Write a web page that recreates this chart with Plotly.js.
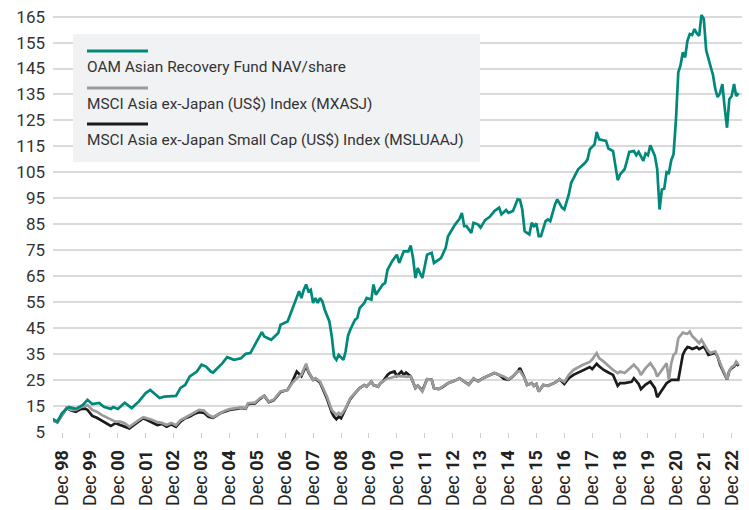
<!DOCTYPE html>
<html>
<head>
<meta charset="utf-8">
<script src="https://cdn.plot.ly/plotly-3.0.1.min.js"></script>
<style>html,body{margin:0;padding:0;background:#fff;}#chart{width:749px;height:510px;}</style>
</head>
<body>
<div id="chart"></div>
<script>
// ---------- DATA ----------
const fundDates = ['1998-09','1998-11','1999-01','1999-04','1999-07','1999-10','1999-12','2000-02','2000-05','2000-07','2000-10','2000-11','2001-01','2001-04','2001-07','2001-10','2002-01','2002-03','2002-07','2002-09','2003-02','2003-04','2003-06','2003-08','2003-11','2004-01','2004-03','2004-05','2004-06','2004-08','2004-10','2004-12','2005-03','2005-06','2005-08','2005-10','2005-12','2006-03','2006-04','2006-07','2006-10','2006-11','2007-02','2007-04','2007-06','2007-07','2007-08','2007-09','2007-10','2007-11','2007-12','2008-01','2008-02','2008-03','2008-04','2008-05','2008-06','2008-08','2008-09','2008-10','2008-11','2008-12','2009-02','2009-03','2009-04','2009-05','2009-07','2009-08','2009-09','2009-11','2009-12','2010-02','2010-03','2010-04','2010-07','2010-08','2010-09','2010-11','2011-01','2011-02','2011-04','2011-06','2011-07','2011-08','2011-09','2011-10','2011-12','2012-02','2012-04','2012-05','2012-08','2012-10','2012-11','2013-02','2013-04','2013-05','2013-06','2013-07','2013-09','2013-10','2013-12','2014-01','2014-03','2014-05','2014-07','2014-09','2014-10','2014-12','2015-01','2015-03','2015-05','2015-06','2015-07','2015-08','2015-10','2015-11','2015-12','2016-01','2016-02','2016-03','2016-05','2016-06','2016-07','2016-09','2016-10','2016-12','2017-01','2017-03','2017-04','2017-05','2017-07','2017-10','2017-11','2017-12','2018-02','2018-03','2018-04','2018-07','2018-08','2018-10','2018-11','2018-12','2019-01','2019-03','2019-04','2019-05','2019-07','2019-08','2019-09','2019-11','2019-12','2020-01','2020-02','2020-04','2020-05','2020-06','2020-07','2020-08','2020-09','2020-10','2020-11','2020-12','2021-01','2021-02','2021-03','2021-04','2021-05','2021-06','2021-07','2021-08','2021-09','2021-10','2021-11','2021-12','2022-01','2022-02','2022-03','2022-04','2022-05','2022-06','2022-07','2022-08','2022-09','2022-10','2022-11','2022-12','2023-01','2023-02','2023-03','2023-04'];
const fundNav = [10.0,9.0,12.3,14.6,13.9,15.4,17.4,15.8,16.2,14.7,13.9,14.6,13.9,16.3,14.2,16.7,20.0,21.2,18.1,18.6,18.9,22.0,23.1,26.4,28.3,30.9,30.2,28.3,27.9,29.6,31.5,33.8,32.8,33.4,35.1,35.4,38.6,43.5,41.8,40.5,43.1,46.3,47.6,52.1,56.6,59.2,56.6,59.8,61.8,59.2,59.8,54.7,56.6,54.7,56.6,55.3,52.1,47.6,41.8,34.1,32.8,34.7,32.8,36.0,42.0,44.4,48.2,48.9,52.7,54.7,56.6,56.0,61.8,57.9,61.8,62.4,67.5,70.8,73.3,70.1,74.6,74.6,76.8,72.0,64.3,68.1,64.3,73.3,74.0,70.1,72.0,75.9,80.4,84.9,87.1,89.4,84.3,84.3,81.7,85.6,84.9,83.7,86.6,87.9,90.1,91.4,88.8,90.5,89.4,90.1,94.6,94.4,90.7,82.3,81.1,85.6,84.3,85.3,80.4,80.4,86.2,86.9,86.2,92.6,94.6,91.4,90.7,96.5,101.0,102.9,106.2,108.7,110.0,113.9,115.8,120.6,117.7,117.1,114.2,113.2,107.7,102.0,104.2,106.2,109.4,112.9,113.2,111.6,112.9,109.4,112.3,111.6,115.4,111.3,106.2,90.7,98.4,98.7,105.1,104.8,109.7,112.0,125.0,143.5,146.1,151.2,149.3,155.7,158.3,157.9,160.2,158.5,157.6,165.6,164.1,152.0,149.0,146.0,142.5,137.0,134.0,135.5,139.0,130.0,122.2,133.2,134.4,139.0,134.4,135.5];

const indexDates = ['1998-09','1998-11','1999-01','1999-03','1999-05','1999-07','1999-09','1999-11','1999-12','2000-02','2000-04','2000-06','2000-08','2000-10','2000-12','2001-02','2001-04','2001-06','2001-08','2001-10','2001-12','2002-02','2002-04','2002-06','2002-08','2002-10','2002-12','2003-02','2003-04','2003-06','2003-08','2003-10','2003-12','2004-02','2004-04','2004-06','2004-09','2004-11','2005-01','2005-04','2005-06','2005-08','2005-09','2005-12','2006-02','2006-04','2006-06','2006-08','2006-11','2007-02','2007-04','2007-06','2007-08','2007-10','2007-11','2008-01','2008-02','2008-04','2008-05','2008-07','2008-09','2008-10','2008-11','2008-12','2009-01','2009-03','2009-05','2009-07','2009-09','2009-11','2009-12','2010-02','2010-03','2010-05','2010-06','2010-07','2010-09','2010-10','2010-12','2011-01','2011-03','2011-04','2011-05','2011-07','2011-09','2011-10','2011-12','2012-02','2012-04','2012-05','2012-07','2012-09','2012-11','2013-02','2013-04','2013-06','2013-08','2013-10','2013-12','2014-02','2014-04','2014-07','2014-09','2014-11','2015-01','2015-03','2015-05','2015-06','2015-08','2015-09','2015-11','2015-12','2016-01','2016-02','2016-04','2016-06','2016-09','2016-11','2017-01','2017-03','2017-05','2017-07','2017-09','2017-12','2018-01','2018-03','2018-04','2018-06','2018-08','2018-10','2018-12','2019-01','2019-03','2019-06','2019-07','2019-09','2019-10','2019-12','2020-02','2020-04','2020-05','2020-07','2020-09','2020-10','2020-11','2020-12','2021-01','2021-02','2021-03','2021-04','2021-05','2021-06','2021-07','2021-08','2021-09','2021-10','2021-11','2021-12','2022-01','2022-02','2022-03','2022-04','2022-05','2022-06','2022-07','2022-08','2022-09','2022-10','2022-11','2022-12','2023-01','2023-02','2023-03','2023-04'];
const mxasj = [9.5,8.7,11.5,14.2,13.5,13.5,14.5,15.2,15.4,13.5,12.8,11.6,10.7,9.6,9.0,9.0,8.4,7.0,8.4,9.6,10.7,10.2,9.6,8.8,8.5,7.7,8.5,7.6,9.6,10.5,11.5,12.5,13.5,13.3,11.6,10.7,12.4,13.2,13.8,14.1,14.5,14.1,16.1,16.3,18.0,18.9,16.7,17.4,20.6,21.2,23.8,25.7,27.0,31.3,28.3,25.1,25.7,24.4,22.5,18.6,13.5,12.5,11.6,12.4,11.6,14.1,18.0,20.0,21.9,23.1,22.5,24.4,23.1,22.5,23.8,24.4,25.7,25.7,26.4,26.6,26.4,26.5,26.2,26.4,21.9,22.8,20.6,25.3,25.1,21.9,21.5,22.5,23.8,24.8,25.7,24.4,23.1,25.7,24.4,25.7,26.4,27.7,27.0,26.4,25.3,26.4,28.3,28.5,25.7,23.1,23.8,22.8,23.5,20.6,23.1,22.8,24.0,25.3,24.3,27.0,28.9,30.0,30.9,32.0,33.0,35.4,33.5,32.1,30.3,28.9,27.7,28.3,27.7,30.3,30.9,28.9,27.0,29.6,31.5,28.9,26.4,28.9,31.5,25.1,31.5,34.7,35.5,41.1,42.0,43.3,43.0,42.8,43.7,42.0,41.1,40.0,39.2,40.5,38.8,37.5,36.2,35.4,35.8,36.0,34.0,31.5,29.5,27.5,25.3,28.5,30.0,30.5,32.1,30.9];
const msluaaj = [9.5,8.7,11.5,14.2,13.3,12.8,13.8,14.0,13.5,11.2,10.5,9.5,8.4,7.3,8.4,7.7,7.3,6.4,7.7,9.0,10.3,9.4,8.5,7.7,8.1,7.0,8.0,7.0,9.0,10.3,11.0,12.0,12.6,12.4,10.9,10.5,12.2,13.0,13.5,13.9,14.3,14.0,15.8,16.0,17.7,18.9,16.5,17.2,20.4,21.2,24.2,28.3,26.5,30.5,28.0,25.1,25.5,24.0,22.0,17.8,12.5,10.9,9.9,10.9,10.3,13.8,17.7,19.9,21.9,23.1,22.5,24.4,23.1,22.5,23.8,24.4,27.0,27.7,28.3,26.6,28.3,27.0,27.9,26.4,21.9,22.8,21.0,25.3,25.1,21.9,21.5,22.5,23.8,24.8,25.7,24.4,23.3,25.5,24.6,25.7,26.4,27.7,27.0,25.5,25.1,26.4,28.3,29.6,25.7,23.1,23.8,22.8,23.5,20.6,23.1,22.8,24.0,25.3,23.5,25.7,27.0,27.9,28.9,30.0,29.2,31.3,30.3,28.9,27.9,27.0,22.8,23.8,23.8,24.3,25.7,23.5,21.5,23.3,24.4,21.9,18.4,21.2,23.8,24.4,25.1,25.1,25.1,25.1,29.6,34.7,36.5,37.7,37.5,37.0,37.3,37.7,36.9,37.5,37.9,36.5,34.7,35.0,35.4,35.5,34.0,31.0,29.0,27.0,25.3,28.5,29.6,30.2,31.5,30.5];

const tickDates = ['1999-01-01','2000-01-01','2001-01-01','2002-01-01','2003-01-01','2004-01-01','2005-01-01','2006-01-01','2007-01-01','2008-01-01','2009-01-01','2010-01-01','2011-01-01','2012-01-01','2013-01-01','2014-01-01','2015-01-01','2016-01-01','2017-01-01','2018-01-01','2019-01-01','2020-01-01','2021-01-01','2022-01-01','2023-01-01'];
const tickYears = ['98','99','00','01','02','03','04','05','06','07','08','09','10','11','12','13','14','15','16','17','18','19','20','21','22'];
const yTicks = [5,15,25,35,45,55,65,75,85,95,105,115,125,135,145,155,165];
const seriesNames = ['OAM Asian Recovery Fund NAV/share','MSCI Asia ex-Japan (US$) Index (MXASJ)','MSCI Asia ex-Japan Small Cap (US$) Index (MSLUAAJ)'];

// ---------- STYLE ----------
const COLORS = ['#00897b','#9b9b9b','#1c1a1a'];
const FONT = 'Roboto, "Open Sans", sans-serif';
const W = 749, H = 510, ML = 53, MR = 7, MT = 14, MB = 78;
const PW = W - ML - MR, PH = H - MT - MB;
const px = x => (x - ML) / PW;
const py = y => (H - MB - y) / PH;

const traces = [
  {x: indexDates, y: msluaaj, name: seriesNames[2], mode: 'lines', line: {color: COLORS[2], width: 2.7}, hoverinfo: 'skip'},
  {x: indexDates, y: mxasj, name: seriesNames[1], mode: 'lines', line: {color: COLORS[1], width: 2.7}, hoverinfo: 'skip'},
  {x: fundDates, y: fundNav, name: seriesNames[0], mode: 'lines', line: {color: COLORS[0], width: 2.7}, hoverinfo: 'skip'}
];

const legLineY = [51, 88, 124];
const legTextY = [67, 104, 140];
const shapes = [
  {type: 'rect', xref: 'paper', yref: 'paper', x0: px(73), x1: px(480), y0: py(34), y1: py(162), fillcolor: '#f1f2f4', line: {width: 0}, layer: 'above'}
];
const annotations = [];
for (let i = 0; i < 3; i++) {
  shapes.push({type: 'line', xref: 'paper', yref: 'paper', x0: px(87), x1: px(148), y0: py(legLineY[i]), y1: py(legLineY[i]), line: {color: COLORS[i], width: 3}, layer: 'above'});
  annotations.push({xref: 'paper', yref: 'paper', x: px(85), y: py(legTextY[i]), xanchor: 'left', yanchor: 'middle', showarrow: false, text: seriesNames[i], font: {family: FONT, size: 15.4, color: '#333'}});
}

const layout = {
  width: W, height: H,
  margin: {l: ML, r: MR, t: MT, b: MB, pad: 0},
  paper_bgcolor: '#fff', plot_bgcolor: '#fff',
  showlegend: false,
  xaxis: {
    type: 'date', range: ['1998-09-05', '2023-05-16'],
    tickmode: 'array', tickvals: tickDates,
    ticktext: tickYears.map(y => 'Dec <b>' + y + '</b>'),
    tickangle: -90, ticks: 'outside', ticklen: 5, tickwidth: 1, tickcolor: '#cfcfcf',
    ticklabelstandoff: 5,
    showgrid: false, zeroline: false, showline: false,
    tickfont: {family: FONT, size: 18, color: '#222'}
  },
  yaxis: {
    range: [5, 166], tickmode: 'array', tickvals: yTicks,
    showgrid: true, gridcolor: '#dadada', gridwidth: 2, zeroline: false, showline: false,
    ticks: '', ticklabelstandoff: 7,
    tickfont: {family: FONT, size: 17, color: '#333'}
  },
  shapes: shapes,
  annotations: annotations
};

Plotly.newPlot('chart', traces, layout, {staticPlot: true, displayModeBar: false});
</script>
</body>
</html>
